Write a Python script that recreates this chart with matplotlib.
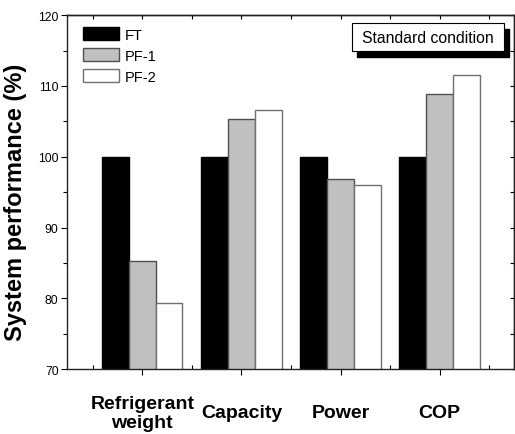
import matplotlib
matplotlib.use("Agg")
import matplotlib.pyplot as plt
from matplotlib.patches import Rectangle
import numpy as np

plt.rcParams['font.family'] = ['Liberation Sans', 'DejaVu Sans']

categories = ["Refrigerant\nweight", "Capacity", "Power", "COP"]
series_names = ["FT", "PF-1", "PF-2"]
ft_values = [100.0, 100.0, 100.0, 100.0]
pf1_values = [85.3, 105.3, 96.8, 108.9]
pf2_values = [79.4, 106.6, 96.0, 111.5]
y_ticks = [70, 80, 90, 100, 110, 120]

fig = plt.figure(figsize=(5.15, 4.35), dpi=100)
ax = fig.add_axes([0.130, 0.149, 0.868, 0.814])

x = np.arange(1, len(categories) + 1)
w = 0.27
styles = [
    dict(color="black", edgecolor="black"),
    dict(color="#c0c0c0", edgecolor="#505050"),
    dict(color="white", edgecolor="#707070"),
]
for i, (vals, name, st) in enumerate(zip([ft_values, pf1_values, pf2_values],
                                        series_names, styles)):
    ax.bar(x + (i - 1) * w, vals, width=w, bottom=0, label=name,
           linewidth=1.0, **st)

ax.set_xlim(0.24, 4.75)
ax.set_ylim(70, 120)

# y axis: outward ticks on the left, inward on the right
ax.set_yticks(y_ticks)
ax.set_yticks(np.arange(70, 121, 5), minor=True)
ax.tick_params(axis='y', which='major', direction='out', length=4, width=0.8,
               labelsize=8.8, pad=2)
ax.tick_params(axis='y', which='minor', direction='out', length=3, width=0.8)

# x axis: category ticks outward, half-step ticks inward
ax.set_xticks(x)
ax.set_xticklabels(categories, fontsize=14, fontweight='bold',
                   linespacing=1.1)
for lbl in ax.get_xticklabels():
    lbl.set_verticalalignment('center')
ax.set_xticks(np.arange(0.5, 5.0, 1.0), minor=True)
ax.tick_params(axis='x', which='major', direction='out', length=4, width=0.8,
               pad=27.5)
ax.tick_params(axis='x', which='minor', direction='in', length=3, width=0.8)

top = ax.secondary_xaxis('top')
top.set_xticks(np.arange(0.5, 5.0, 0.5))
top.tick_params(direction='in', length=3, width=0.8, labeltop=False)
top.set_xticklabels([])
right = ax.secondary_yaxis('right')
right.set_yticks(np.arange(70, 121, 5))
right.tick_params(direction='in', length=3, width=0.8, labelright=False)
right.set_yticklabels([])

for sp in ax.spines.values():
    sp.set_linewidth(1.0)
    sp.set_color("#222222")
for sax in (top, right):
    for sp in sax.spines.values():
        sp.set_linewidth(1.0)
        sp.set_color("#222222")

ax.set_ylabel("System performance (%)", fontsize=17, fontweight='bold')
ax.yaxis.set_label_coords(-0.090, 0.475)

ax.legend(loc='upper left', bbox_to_anchor=(0.037, 0.965), frameon=False,
          fontsize=10.5, handlelength=2.45, handleheight=0.95,
          handletextpad=0.4, labelspacing=0.45, borderpad=0,
          borderaxespad=0)

# condition label with drop shadow
bx, by, bw, bh = 0.638, 0.898, 0.340, 0.079
ax.add_patch(Rectangle((bx + 0.011, by - 0.017), bw, bh, transform=ax.transAxes,
                       facecolor="black", edgecolor="black", zorder=5,
                       clip_on=False))
ax.add_patch(Rectangle((bx, by), bw, bh, transform=ax.transAxes,
                       facecolor="white", edgecolor="black", linewidth=0.8,
                       zorder=6, clip_on=False))
ax.text(bx + bw / 2, by + bh / 2, "Standard condition", transform=ax.transAxes,
        ha='center', va='center', fontsize=11.3, zorder=7)

fig.savefig("out.png", dpi=100)
